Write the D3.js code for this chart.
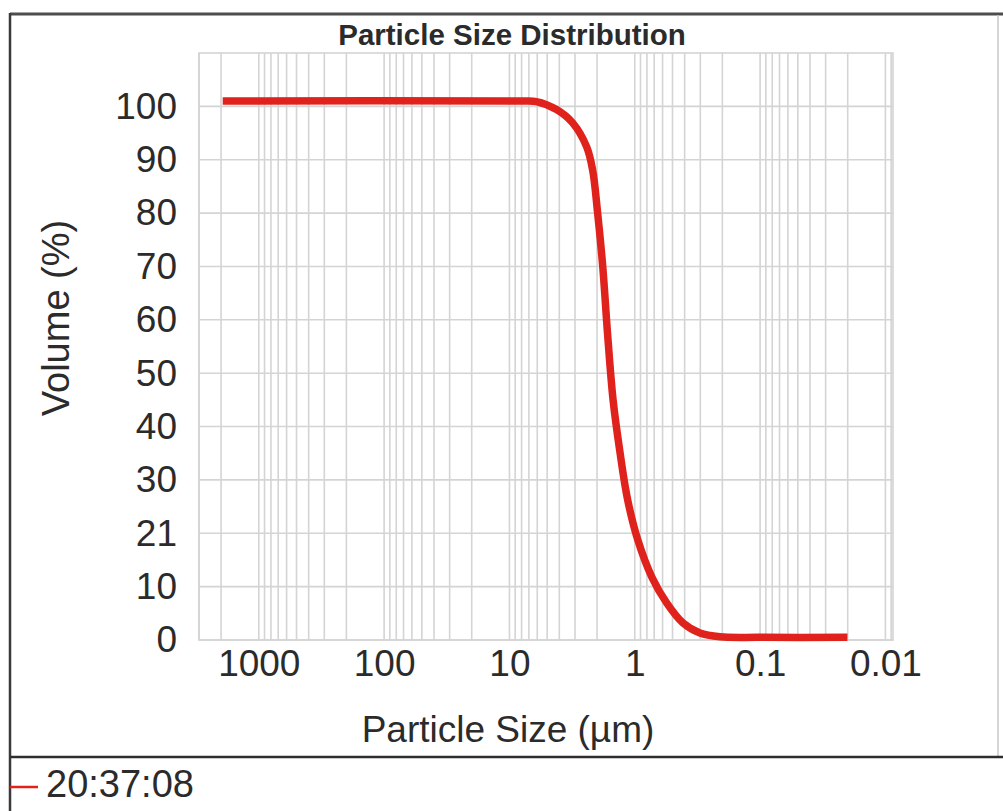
<!DOCTYPE html>
<html lang="en">
  <head>
    <meta charset="utf-8">
    <title>Particle Size Distribution</title>
    <script src="https://d3js.org/d3.v7.min.js"></script>
    <style>
      body { margin: 0; background: #fff; }
      text { font-family: "Liberation Sans", Arial, sans-serif; fill: #2b2b2b; }
    </style>
  </head>
  <body>
    <script type="text/javascript">
      // particle size (um) and cumulative volume (%)
      var sizes   = [1940, 8.3, 6.1, 4.21, 3.13, 2.42, 2.17, 1.98, 1.80, 1.644, 1.49, 1.32, 1.14, 0.946, 0.731, 0.555, 0.413, 0.302, 0.209, 0.1, 0.0201];
      var volumes = [101, 101, 100.9, 99.4, 96.9, 92.4, 88.1, 80.1, 69.9, 57, 45, 35.6, 26.3, 18.75, 11.8, 6.9, 3.2, 1.3, 0.6, 0.5, 0.5];

      var yTicks = [0, 10, 20, 30, 40, 50, 60, 70, 80, 90, 100];
      var yTickLabels = ["0", "10", "21", "30", "40", "50", "60", "70", "80", "90", "100"];
      var xTicks = [1000, 100, 10, 1, 0.1, 0.01];
      var xTickLabels = ["1000", "100", "10", "1", "0.1", "0.01"];
      var legendLabel = "20:37:08";

      var w = 1003, h = 811;
      var plotLeft = 199, plotRight = 893, plotTop = 53, plotBottom = 640;

      var svg = d3.select("body").append("svg")
                  .attr("width", w)
                  .attr("height", h);

      // x axis runs from big to small particles
      var xScale = d3.scaleLog()
                     .domain([3000, 0.0087])
                     .range([plotLeft, plotRight]);

      var yScale = d3.scaleLinear()
                     .domain([0, 110])
                     .range([plotBottom, plotTop]);

      // minor + major log grid
      var gridX = [];
      for (var e = -3; e <= 3; e++) {
        for (var k = 1; k <= 9; k++) {
          var v = k * Math.pow(10, e);
          if (v <= 3000 && v >= 0.0087) gridX.push(v);
        }
      }

      svg.append("g").selectAll("line")
         .data(gridX)
         .enter().append("line")
         .attr("x1", function(d) { return xScale(d); })
         .attr("x2", function(d) { return xScale(d); })
         .attr("y1", plotTop)
         .attr("y2", plotBottom)
         .attr("stroke", "#d4d4d4")
         .attr("stroke-width", 1.6);

      svg.append("g").selectAll("line")
         .data(yTicks)
         .enter().append("line")
         .attr("x1", plotLeft)
         .attr("x2", plotRight)
         .attr("y1", function(d) { return yScale(d); })
         .attr("y2", function(d) { return yScale(d); })
         .attr("stroke", "#d4d4d4")
         .attr("stroke-width", 1.6);

      svg.append("rect")
         .attr("x", plotLeft).attr("y", plotTop)
         .attr("width", plotRight - plotLeft).attr("height", plotBottom - plotTop)
         .attr("fill", "none")
         .attr("stroke", "#d4d4d4")
         .attr("stroke-width", 1.6);

      // axes
      var yAxis = d3.axisLeft(yScale)
                    .tickValues(yTicks)
                    .tickFormat(function(d, i) { return yTickLabels[i]; })
                    .tickSize(0)
                    .tickPadding(22);

      var gy = svg.append("g")
                  .attr("transform", "translate(" + plotLeft + ",0)")
                  .call(yAxis);
      gy.select(".domain").remove();
      gy.selectAll("text")
        .attr("font-size", 37)
        .attr("font-family", "Liberation Sans, Arial, sans-serif")
        .attr("fill", "#2b2b2b");

      var xAxis = d3.axisBottom(xScale)
                    .tickValues(xTicks)
                    .tickFormat(function(d, i) { return xTickLabels[i]; })
                    .tickSize(0)
                    .tickPadding(10);

      var gx = svg.append("g")
                  .attr("transform", "translate(0," + plotBottom + ")")
                  .call(xAxis);
      gx.select(".domain").remove();
      gx.selectAll("text")
        .attr("font-size", 37)
        .attr("font-family", "Liberation Sans, Arial, sans-serif")
        .attr("fill", "#2b2b2b");

      // the curve
      var pts = sizes.map(function(s, i) { return [s, volumes[i]]; });
      var line = d3.line()
                   .x(function(d) { return xScale(d[0]); })
                   .y(function(d) { return yScale(d[1]); })
                   .curve(d3.curveCatmullRom.alpha(0.5));

      svg.append("path")
         .datum(pts)
         .attr("d", line)
         .attr("fill", "none")
         .attr("stroke", "#e0221c")
         .attr("stroke-width", 7.5)
         .attr("stroke-linecap", "butt")
         .attr("stroke-linejoin", "round");

      // titles
      svg.append("text")
         .attr("x", 512).attr("y", 45)
         .attr("text-anchor", "middle")
         .attr("font-size", 29.5)
         .attr("font-weight", "bold")
         .attr("fill", "#222")
         .text("Particle Size Distribution");

      svg.append("text")
         .attr("transform", "translate(69,318) rotate(-90)")
         .attr("text-anchor", "middle")
         .attr("font-size", 38)
         .text("Volume (%)");

      svg.append("text")
         .attr("x", 508).attr("y", 742)
         .attr("text-anchor", "middle")
         .attr("font-size", 37)
         .text("Particle Size (\u00b5m)");

      // frame
      svg.append("line")
         .attr("x1", 10).attr("x2", w).attr("y1", 14).attr("y2", 14)
         .attr("stroke", "#4d4d4d").attr("stroke-width", 3);
      svg.append("line")
         .attr("x1", 10).attr("x2", 10).attr("y1", 13).attr("y2", h)
         .attr("stroke", "#3a3a3a").attr("stroke-width", 2.5);
      svg.append("line")
         .attr("x1", 998).attr("x2", 998).attr("y1", 15).attr("y2", 757)
         .attr("stroke", "#c8c8c8").attr("stroke-width", 1.5);
      svg.append("line")
         .attr("x1", 10).attr("x2", w).attr("y1", 757).attr("y2", 757)
         .attr("stroke", "#2e2e2e").attr("stroke-width", 2.5);

      // legend
      svg.append("line")
         .attr("x1", 10).attr("x2", 38).attr("y1", 787).attr("y2", 787)
         .attr("stroke", "#e0221c").attr("stroke-width", 2.5);
      svg.append("text")
         .attr("x", 46).attr("y", 797)
         .attr("font-size", 38)
         .text(legendLabel);
    </script>
  </body>
</html>
